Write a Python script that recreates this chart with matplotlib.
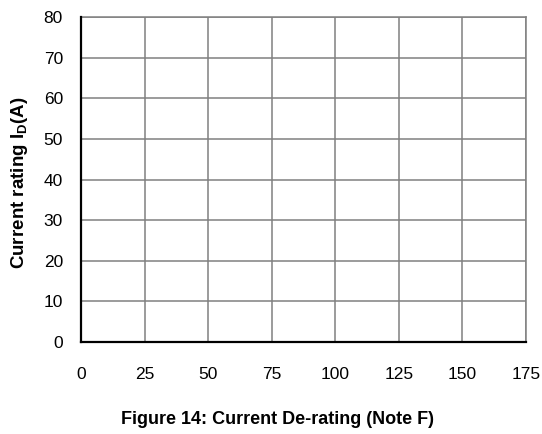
import matplotlib
matplotlib.use("Agg")
import matplotlib.pyplot as plt

plt.rcParams['font.family'] = ['Liberation Sans', 'DejaVu Sans']
plt.rcParams['mathtext.fontset'] = 'custom'
plt.rcParams['mathtext.rm'] = 'Liberation Sans'
plt.rcParams['mathtext.bf'] = 'Liberation Sans:bold'

x_ticks = [0, 25, 50, 75, 100, 125, 150, 175]
y_ticks = [0, 10, 20, 30, 40, 50, 60, 70, 80]
x_label_text = "Figure 14: Current De-rating (Note F)"
y_label_text = r"Current rating $\mathbf{I_D}$(A)"

fig = plt.figure(figsize=(5.42, 4.34), dpi=100)
W, H = 542, 434
left, right, top, bottom = 81, 526, 17, 342
ax = fig.add_axes([left / W, 1 - bottom / H, (right - left) / W, (bottom - top) / H])

ax.set_xlim(x_ticks[0], x_ticks[-1])
ax.set_ylim(y_ticks[0], y_ticks[-1])
ax.set_xticks(x_ticks)
ax.set_yticks(y_ticks)
ax.set_xticklabels([str(v) for v in x_ticks])
ax.set_yticklabels([str(v) for v in y_ticks])
ax.tick_params(axis='both', length=0, labelsize=12.5, colors='black')
ax.tick_params(axis='x', pad=18)
ax.tick_params(axis='y', pad=13)
ax.grid(True, color='#808080', linewidth=1.1)
ax.set_axisbelow(False)

for s in ['top', 'right']:
    ax.spines[s].set_color('#808080')
    ax.spines[s].set_linewidth(1.1)
for s in ['left', 'bottom']:
    ax.spines[s].set_color('black')
    ax.spines[s].set_linewidth(1.6)
    ax.spines[s].set_zorder(5)

ax.set_ylabel(y_label_text, fontsize=13.5, fontweight='bold')
ax.yaxis.label.set_va('center')
ax.yaxis.set_label_coords((20 - left) / (right - left), 0.49)
fig.text(0.5 * (120 + 435) / W, 1 - 420 / H, x_label_text, ha='center', va='center',
         fontsize=13, fontweight='bold')

fig.savefig("out.png", dpi=100)
